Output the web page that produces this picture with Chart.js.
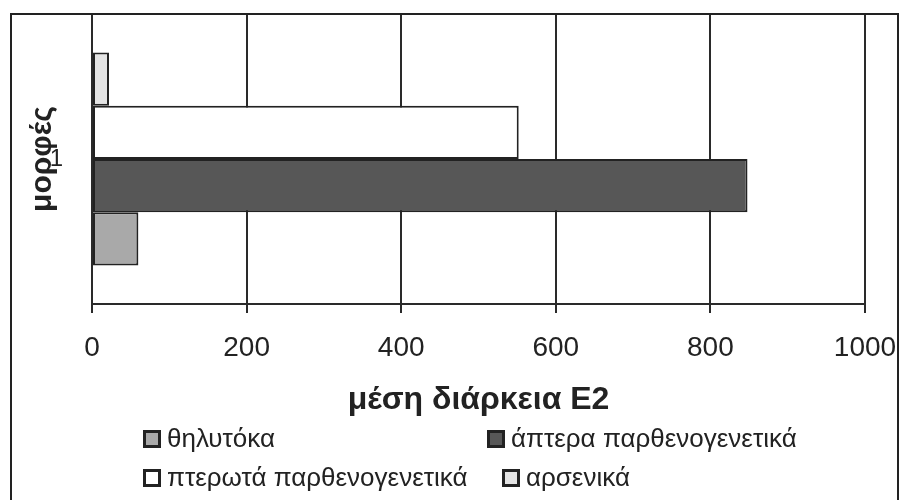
<!DOCTYPE html>
<html>
<head>
<meta charset="utf-8">
<script src="https://cdn.jsdelivr.net/npm/chart.js@4"></script>
<style>
  html, body { margin: 0; padding: 0; background: #fff; }
  #wrap { position: relative; width: 900px; height: 500px; overflow: hidden; background: #fff; }
  #c { position: absolute; left: 0; top: 0; }
  #frame { position: absolute; left: 10px; top: 13px; width: 885px; height: 490px;
           border: 2px solid #222; border-bottom: none; pointer-events: none; }
  .leg { position: absolute; font-family: "Liberation Sans", Arial, sans-serif; font-size: 26px;
         color: #222; white-space: nowrap; line-height: 26px; }
  .leg .box { display: inline-block; width: 12px; height: 12px; border: 3px solid #222;
              vertical-align: -1px; margin-right: 6px; }
</style>
</head>
<body>
<div id="wrap">
  <canvas id="c" width="900" height="500"></canvas>
  <div id="frame"></div>
  <div id="legend"></div>
</div>
<script>
// ---- data ----
const categories = ['1'];
const seriesNames = ['θηλυτόκα', 'άπτερα παρθενογενετικά', 'πτερωτά παρθενογενετικά', 'αρσενικά'];
const thilytoka = [60];
const aptera = [848];
const pterota = [552];
const arsenika = [22];
const xTicks = [0, 200, 400, 600, 800, 1000];
const xTitle = 'μέση διάρκεια Ε2';
const yTitle = 'μορφές';

// ---- styles ----
const seriesValues = [thilytoka, aptera, pterota, arsenika];
const fills = ['#a9a9a9', '#575757', '#ffffff', '#e4e4e4'];
const legendPos = [[143, 425], [487, 425], [143, 464], [502, 464]];

// Excel draws the first series at the bottom: Chart.js draws dataset 0 at top, so reverse.
const order = [3, 2, 1, 0];
const datasets = order.map(i => ({
  label: seriesNames[i],
  data: seriesValues[i],
  backgroundColor: fills[i],
  borderColor: '#222',
  borderWidth: 2,
  borderSkipped: false,
  categoryPercentage: 0.734,
  barPercentage: 1.0
}));

new Chart(document.getElementById('c'), {
  type: 'bar',
  data: { labels: categories, datasets },
  options: {
    indexAxis: 'y',
    responsive: false,
    animation: false,
    layout: { padding: { left: 12, right: 35, top: 14, bottom: 81 } },
    plugins: { legend: { display: false }, tooltip: { enabled: false } },
    scales: {
      x: {
        min: 0, max: 1000,
        afterBuildTicks: s => { s.ticks = xTicks.map(v => ({ value: v })); },
        afterFit: s => { s.height = 115; s.paddingLeft = 0; s.paddingRight = 0; },
        grid: { color: '#2a2a2a', lineWidth: 2, tickLength: 9, drawTicks: true, tickColor: '#2a2a2a' },
        border: { color: '#2a2a2a', width: 2 },
        ticks: { color: '#222', padding: 18, font: { family: 'Liberation Sans', size: 28 },
                 callback: v => String(v) },
        title: { display: true, text: xTitle, color: '#222', padding: { top: 0, bottom: 0 },
                 font: { family: 'Liberation Sans', size: 32, weight: 'bold' } }
      },
      y: {
        afterFit: s => { s.width = 80; s.paddingTop = 0; s.paddingBottom = 0; },
        grid: { display: false, drawTicks: false },
        border: { display: true, color: '#2a2a2a', width: 2 },
        ticks: { color: '#222', padding: 29, font: { family: 'Liberation Sans', size: 24 } },
        title: { display: true, text: yTitle, color: '#222', padding: { top: 13, bottom: 0 },
                 font: { family: 'Liberation Sans', size: 30, weight: 'bold' } }
      }
    }
  }
});

// legend (Excel order, 2 rows)
const leg = document.getElementById('legend');
seriesNames.forEach((name, i) => {
  const d = document.createElement('div');
  d.className = 'leg';
  d.style.left = legendPos[i][0] + 'px';
  d.style.top = legendPos[i][1] + 'px';
  const b = document.createElement('span');
  b.className = 'box';
  b.style.background = fills[i];
  d.appendChild(b);
  d.appendChild(document.createTextNode(name));
  leg.appendChild(d);
});
</script>
</body>
</html>
